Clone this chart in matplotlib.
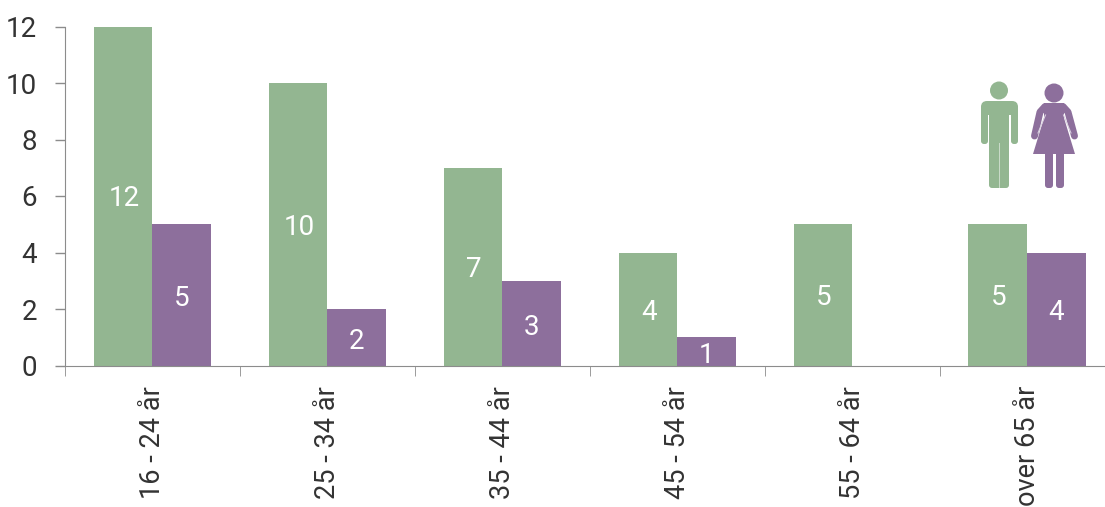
import matplotlib
matplotlib.use("Agg")
import matplotlib.pyplot as plt
import numpy as np
from matplotlib.patches import Circle, FancyBboxPatch, Polygon

categories = ["16 - 24 år", "25 - 34 år", "35 - 44 år", "45 - 54 år", "55 - 64 år", "over 65 år"]
men = [12, 10, 7, 4, 5, 5]
women = [5, 2, 3, 1, 0, 4]
GREEN = "#93b691"
PURPLE = "#8d6f9c"
AXIS = "#8c8c8c"
plt.rcParams['font.family'] = ['Roboto', 'DejaVu Sans']

fig = plt.figure(figsize=(11.05, 5.07), dpi=100)
ax = fig.add_axes([65/1105, 1-365.5/507, (1114.5-65)/1105, (365.5-26.5)/507])
x = np.arange(len(categories))
w = 0.335
ax.bar(x-w/2, men, w, color=GREEN)
ax.bar(x+w/2, women, w, color=PURPLE)
for i, v in enumerate(men):
    ax.annotate(str(v), (i-w/2, v/2), xytext=(1, -3), textcoords="offset pixels",
                color="white", ha="center", va="center", fontsize=20)
for i, v in enumerate(women):
    if v:
        ax.annotate(str(v), (i+w/2, v/2), xytext=(0, -4), textcoords="offset pixels",
                    color="white", ha="center", va="center", fontsize=20)
ax.set_xlim(-0.5, 5.5)
ax.set_ylim(0, 12)
ax.set_yticks(range(0, 13, 2))
ax.set_xticks(x)
ax.set_xticklabels(categories, rotation=90, fontsize=19.5, color="#333333")
ax.tick_params(axis='x', length=0, pad=14.5)
ax.tick_params(axis='y', length=7.2, width=1, color=AXIS, pad=12.8, labelsize=20, labelcolor="#333333")
for s in ("top", "right"):
    ax.spines[s].set_visible(False)
ax.spines["left"].set_color(AXIS)
ax.spines["bottom"].set_color(AXIS)
ax.set_xticks(np.arange(-0.5, 5.6, 1), minor=True)
ax.tick_params(axis='x', which='minor', length=7.5, color=AXIS, direction='out')

# pictograms in pixel coordinates
pic = fig.add_axes([0, 0, 1, 1], facecolor="none")
pic.set_xlim(0, 1105); pic.set_ylim(507, 0); pic.axis("off")
pic.add_patch(Circle((999, 90.5), 9, color=GREEN, lw=0))
pic.add_patch(FancyBboxPatch((989, 103), 20, 85, boxstyle="round,pad=0,rounding_size=3", color=GREEN, lw=0))
pic.add_patch(FancyBboxPatch((981, 101), 37, 14, boxstyle="round,pad=0,rounding_size=6", color=GREEN, lw=0))
pic.add_patch(FancyBboxPatch((981, 105), 7, 39, boxstyle="round,pad=0,rounding_size=3", color=GREEN, lw=0))
pic.add_patch(FancyBboxPatch((1011, 105), 7, 39, boxstyle="round,pad=0,rounding_size=3", color=GREEN, lw=0))
pic.add_patch(Polygon([(998.5, 143), (998.5, 188), (999.5, 188), (999.5, 143)], color="#c9dac8", lw=0))
pic.add_patch(Circle((1054, 93), 9.5, color=PURPLE, lw=0))
pic.add_patch(Polygon([(1044, 103), (1064, 103), (1064, 118), (1075, 154), (1033, 154), (1044, 118)], color=PURPLE, lw=0))
pic.add_patch(FancyBboxPatch((1045, 150), 8, 38, boxstyle="round,pad=0,rounding_size=3", color=PURPLE, lw=0))
pic.add_patch(FancyBboxPatch((1056, 150), 8, 38, boxstyle="round,pad=0,rounding_size=3", color=PURPLE, lw=0))
pic.plot([1045, 1040, 1034.5], [106.5, 112, 136], color=PURPLE, lw=5, solid_capstyle="round", solid_joinstyle="round")
pic.plot([1063, 1068, 1074.5], [106.5, 112, 136], color=PURPLE, lw=5, solid_capstyle="round", solid_joinstyle="round")
pic.plot([1045.5, 1038], [115, 133], color="#d9cfe0", lw=0.8)
pic.plot([1063.5, 1071], [115, 133], color="#d9cfe0", lw=0.8)

fig.savefig("out.png", dpi=100)
